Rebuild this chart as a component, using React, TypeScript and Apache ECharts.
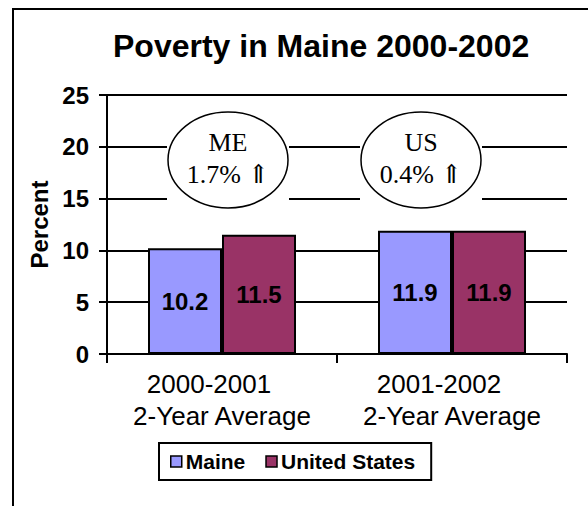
import React, { useEffect, useRef } from "react";
import * as echarts from "echarts";

const periods = ["2000-2001", "2001-2002"];
const periodSubtitles = ["2-Year Average", "2-Year Average"];
const maineValues = [10.2, 11.9];
const usValues = [11.5, 11.9];
const seriesNames = ["Maine", "United States"];
const yMin = 0;
const yMax = 25;
const yInterval = 5;
const annotationTitles = ["ME", "US"];
const annotationChanges = ["1.7% \u21D1", "0.4% \u21D1"];

const SANS = "'Liberation Sans', Arial, Helvetica, sans-serif";
const SERIF = "'Liberation Serif', 'Times New Roman', 'DejaVu Serif', serif";

export default function App() {
  const ref = useRef<HTMLDivElement>(null);

  useEffect(() => {
    if (!ref.current) return;
    const chart = echarts.init(ref.current, undefined, { renderer: "svg" });

    const categories = periods.map((p, i) => `${p}\n${periodSubtitles[i]}`);

    const ellipseCenters = [
      { cx: 228, cy: 160 },
      { cx: 421, cy: 160 },
    ];
    const rx = 60;
    const ry = 48;

    const annotationGraphics: any[] = [];
    annotationTitles.forEach((t, i) => {
      const { cx, cy } = ellipseCenters[i];
      annotationGraphics.push({
        type: "rect",
        z: 100,
        shape: { x: cx - rx - 1, y: cy - ry + 4, width: rx * 2 + 2, height: ry * 2 - 8 },
        style: { fill: "#ffffff", stroke: null },
      });
      annotationGraphics.push({
        type: "ellipse",
        z: 101,
        shape: { cx, cy, rx, ry },
        style: { fill: "#ffffff", stroke: "#000000", lineWidth: 1.5 },
      });
      annotationGraphics.push({
        type: "text",
        z: 102,
        x: cx,
        y: cy - 2,
        style: {
          text: `${t}\n${annotationChanges[i]}`,
          align: "center",
          verticalAlign: "middle",
          fontFamily: SERIF,
          fontSize: 26,
          lineHeight: 32,
          fill: "#000000",
        },
      });
    });

    const option: any = {
      animation: false,
      backgroundColor: "#ffffff",
      title: {
        text: "Poverty in Maine 2000-2002",
        left: 113,
        top: 30,
        padding: 0,
        textStyle: {
          fontFamily: SANS,
          fontWeight: "bold",
          fontSize: 32,
          color: "#000000",
        },
      },
      grid: { left: 107, right: 21, top: 95, bottom: 152, containLabel: false },
      legend: {
        data: seriesNames,
        left: 159,
        top: 443,
        orient: "horizontal",
        padding: [8, 16, 8, 11],
        itemGap: 20,
        itemWidth: 11,
        itemHeight: 11,
        icon: "rect",
        borderColor: "#000000",
        borderWidth: 2,
        backgroundColor: "#ffffff",
        itemStyle: { borderColor: "#000000", borderWidth: 1.5 },
        textStyle: {
          fontFamily: SANS,
          fontWeight: "bold",
          fontSize: 21,
          color: "#000000",
          padding: [0, 0, 0, -1],
        },
      },
      xAxis: {
        type: "category",
        data: categories,
        axisLine: { show: true, lineStyle: { color: "#000000", width: 2 } },
        axisTick: { show: true, alignWithLabel: false, length: 9, lineStyle: { color: "#000000", width: 2 } },
        axisLabel: {
          margin: 14,
          color: "#000000",
          formatter: (value: string) => {
            const [a, b] = value.split("\n");
            return `{a|${a}}\n{b|${b}}`;
          },
          rich: {
            a: { fontFamily: SANS, fontSize: 26, lineHeight: 32, color: "#000000", padding: [0, 26, 0, 0] },
            b: { fontFamily: SANS, fontSize: 26, lineHeight: 32, color: "#000000" },
          },
        },
        splitLine: { show: false },
      },
      yAxis: {
        type: "value",
        min: yMin,
        max: yMax,
        interval: yInterval,
        name: "Percent",
        nameLocation: "middle",
        nameGap: 50,
        nameRotate: 90,
        nameTextStyle: {
          fontFamily: SANS,
          fontWeight: "bold",
          fontSize: 24,
          color: "#000000",
        },
        axisLine: { show: true, lineStyle: { color: "#000000", width: 2 } },
        axisTick: { show: true, length: 8, lineStyle: { color: "#000000", width: 2 } },
        axisLabel: {
          margin: 18,
          fontFamily: SANS,
          fontWeight: "bold",
          fontSize: 24,
          color: "#000000",
        },
        splitLine: { show: true, lineStyle: { color: "#000000", width: 2 } },
      },
      series: [
        {
          name: seriesNames[0],
          type: "bar",
          data: maineValues,
          barWidth: 74,
          barGap: "0%",
          itemStyle: { color: "#9999FF", borderColor: "#000000", borderWidth: 2 },
          label: {
            show: true,
            position: "inside",
            fontFamily: SANS,
            fontWeight: "bold",
            fontSize: 24,
            color: "#000000",
          },
        },
        {
          name: seriesNames[1],
          type: "bar",
          data: usValues,
          barWidth: 74,
          barGap: "0%",
          itemStyle: { color: "#993366", borderColor: "#000000", borderWidth: 2 },
          label: {
            show: true,
            position: "inside",
            fontFamily: SANS,
            fontWeight: "bold",
            fontSize: 24,
            color: "#000000",
          },
        },
      ],
      graphic: [
        {
          type: "rect",
          z: 99,
          shape: { x: 13, y: 9, width: 640, height: 640 },
          style: { fill: null, stroke: "#000000", lineWidth: 2 },
        },
        ...annotationGraphics,
      ],
    };

    chart.setOption(option);
    return () => {
      chart.dispose();
    };
  }, []);

  return (
    <div
      ref={ref}
      style={{ position: "absolute", left: 0, top: 0, width: 588, height: 506, background: "#ffffff" }}
    />
  );
}
